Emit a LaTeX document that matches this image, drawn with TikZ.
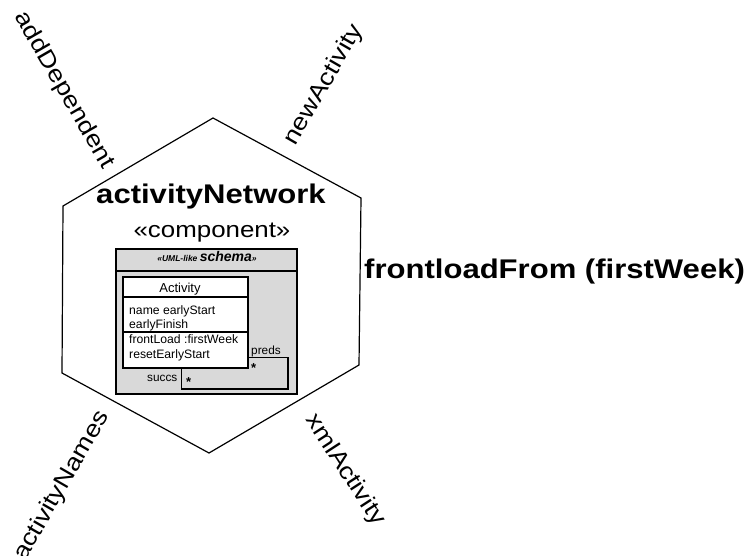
\documentclass[tikz,border=0pt]{standalone}
\usepackage{fontspec}
\setmainfont{Liberation Sans}
\newfontfamily\widefont{Liberation Sans}[FakeStretch=1.15]
\usepackage{tikz}
\usetikzlibrary{positioning}
\definecolor{schemagray}{RGB}{217,217,217}
\tikzstyle{hexline} = [line width=1.2pt, line join=miter]
\tikzstyle{portlabel} = [inner sep=0pt, font=\widefont\fontsize{23.5}{28}\selectfont]
\tikzstyle{bigtitle} = [inner sep=0pt, font=\widefont\bfseries\fontsize{27}{32}\selectfont]
\tikzstyle{stereo} = [inner sep=0pt, font=\widefont\fontsize{22.5}{27}\selectfont]
\tikzstyle{schemabox} = [rectangle, draw=black, fill=schemagray, line width=1.3pt, minimum width=181pt, minimum height=145pt, inner sep=0pt]
\tikzstyle{classbox} = [rectangle, draw=black, fill=white, line width=1.3pt, minimum width=125pt, minimum height=91pt, inner sep=0pt]
\tikzstyle{member} = [inner sep=0pt, anchor=base west, font=\fontsize{12.2}{14}\selectfont]
\tikzstyle{rolename} = [inner sep=0pt, anchor=base west, font=\fontsize{11.8}{14}\selectfont]
\tikzstyle{multmark} = [inner sep=0pt, anchor=base west, font=\bfseries\fontsize{13}{14}\selectfont]
\tikzstyle{assoc} = [line width=1.2pt]

\begin{document}
\begin{tikzpicture}[x=1pt, y=-1pt]
   \useasboundingbox (0,0) rectangle (752,556);
   % component hexagon
   \draw [hexline] (213,118) -- (361,198) -- (359,365) -- (209,453) -- (62,373) -- (63,206) -- cycle;
   \node (netname) [bigtitle, anchor=base] at (211,204) {activityNetwork};
   \node (netkind) [stereo, anchor=base] at (212,237) {«component»};
   % ports
   \node (addDep) [portlabel, rotate=-60] at (64,90) {addDependent};
   \node (newAct) [portlabel, rotate=60] at (324,85) {newActivity};
   \node (actNames) [portlabel, rotate=60] at (62,486) {activityNames};
   \node (xmlAct) [portlabel, rotate=-57] at (345,470) {xmlActivity};
   \node (frontload) [bigtitle, anchor=base west] at (364,278) {frontloadFrom (firstWeek)};
   % schema
   \node (schema) [schemabox] at (206.5,321.5) {};
   \draw [line width=1.3pt] (schema.west |- 0,271) -- (schema.east |- 0,271);
   \node (schemahead) [inner sep=0pt, anchor=base] at (207,261)
      {\bfseries\itshape\fontsize{8.5}{10}\selectfont «UML-like \fontsize{14}{16}\selectfont schema\fontsize{8.5}{10}\selectfont»};
   \node (cls) [classbox] at (185.5,322.5) {};
   \draw [line width=1.1pt] (cls.west |- 0,297) -- (cls.east |- 0,297);
   \draw [line width=1.1pt] (cls.west |- 0,332) -- (cls.east |- 0,332);
   \node (clsname) [inner sep=0pt, anchor=base, font=\fontsize{13}{15}\selectfont] at (180,292) {Activity};
   \node (attrA) [member] at (129,314) {name earlyStart};
   \node (attrB) [member] at (129,328) {earlyFinish};
   \node (opA) [member] at (129,343) {frontLoad :firstWeek};
   \node (opB) [member] at (129,358) {resetEarlyStart};
   % self association
   \coordinate (loop) at (288,389);
   \draw [assoc] ([yshift=11pt]cls.south east) -| (loop) -| ([xshift=59pt]cls.south west);
   \node (preds) [rolename] at (251,354) {preds};
   \node (predsmult) [multmark] at (251,372) {*};
   \node (succs) [rolename] at (147,381) {succs};
   \node (succsmult) [multmark] at (186,386) {*};
\end{tikzpicture}
\end{document}
